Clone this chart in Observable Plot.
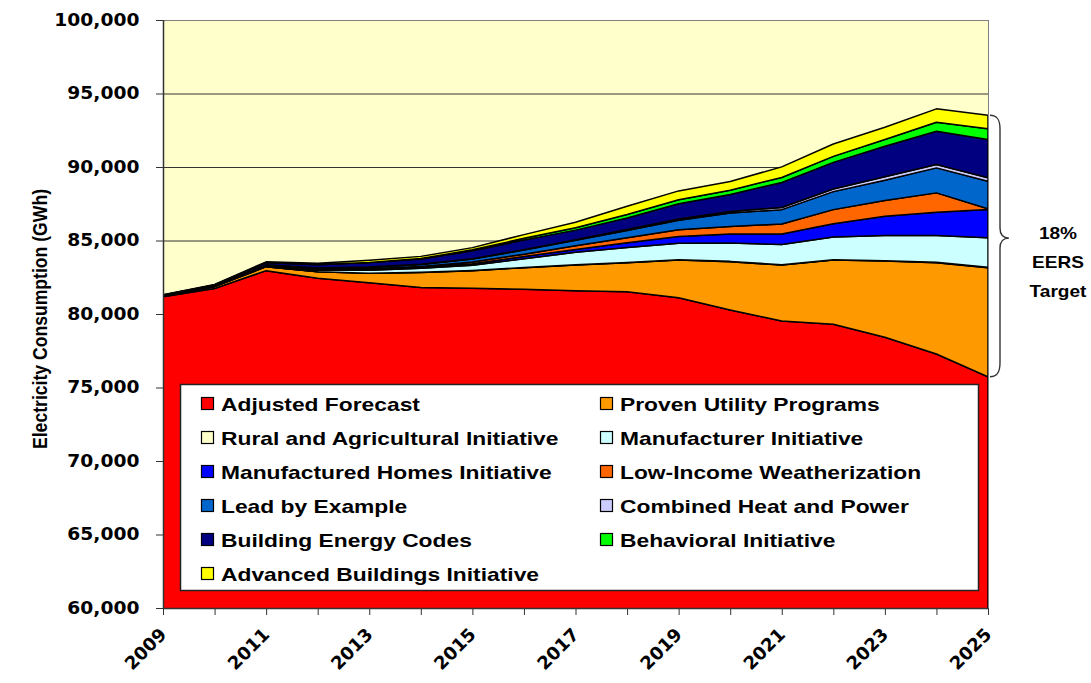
<!DOCTYPE html>
<html><head><meta charset="utf-8">
<script src="https://cdn.jsdelivr.net/npm/d3@7"></script>
<script src="https://cdn.jsdelivr.net/npm/@observablehq/plot@0.6"></script>
<style>
html,body{margin:0;padding:0;background:#fff;}
#chart{position:relative;width:1091px;height:683px;}
</style></head><body><div id="chart"></div>
<script>
// ---- data (GWh) ----
const years = [2009, 2010, 2011, 2012, 2013, 2014, 2015, 2016, 2017, 2018, 2019, 2020, 2021, 2022, 2023, 2024, 2025];
const adjustedForecast = [81180, 81730, 82950, 82430, 82130, 81800, 81750, 81680, 81580, 81520, 81100, 80270, 79520, 79300, 78415, 77280, 75735];
const provenUtility    = [60, 130, 270, 450, 640, 1030, 1200, 1470, 1750, 1970, 2570, 3290, 3810, 4370, 5185, 6210, 7415];
const ruralAgricultural= [0, 0, 0, 0, 5, 5, 10, 10, 15, 15, 20, 20, 25, 25, 30, 30, 30];
const manufacturer     = [10, 20, 50, 100, 200, 270, 350, 600, 850, 1020, 1130, 1250, 1370, 1550, 1706, 1816, 2000];
const manufacturedHomes= [5, 10, 20, 40, 60, 70, 115, 150, 200, 330, 460, 610, 720, 900, 1314, 1584, 1925];
const lowIncome        = [5, 10, 20, 40, 50, 60, 110, 160, 250, 330, 450, 520, 680, 955, 1070, 1320, 50];
const leadByExample    = [5, 15, 30, 60, 100, 140, 200, 280, 370, 500, 640, 910, 975, 1225, 1380, 1700, 1880];
const combinedHeat     = [0, 0, 5, 5, 10, 15, 20, 30, 40, 60, 90, 110, 150, 180, 230, 226, 230];
const buildingCodes    = [30, 60, 150, 230, 300, 350, 550, 650, 650, 790, 1040, 1150, 1700, 1810, 2080, 2264, 2610];
const behavioral       = [0, 0, 5, 5, 15, 30, 60, 120, 160, 230, 275, 290, 340, 410, 460, 615, 720];
const advancedBuildings= [15, 30, 50, 90, 150, 150, 150, 250, 380, 565, 600, 600, 720, 840, 835, 910, 930];

const seriesNames = [
  "Adjusted Forecast", "Proven Utility Programs", "Rural and Agricultural Initiative",
  "Manufacturer Initiative", "Manufactured Homes Initiative", "Low-Income Weatherization",
  "Lead by Example", "Combined Heat and Power", "Building Energy Codes",
  "Behavioral Initiative", "Advanced Buildings Initiative"
];
const seriesColors = ["#FF0000", "#FF9900", "#FFFFCC", "#CCFFFF", "#0000FF", "#FF6600",
  "#0066CC", "#CCCCFF", "#000080", "#00FF00", "#FFFF00"];
const seriesValues = [adjustedForecast, provenUtility, ruralAgricultural, manufacturer,
  manufacturedHomes, lowIncome, leadByExample, combinedHeat, buildingCodes, behavioral, advancedBuildings];

const yTicks = [60000, 65000, 70000, 75000, 80000, 85000, 90000, 95000, 100000];
const xLabelYears = [2009, 2011, 2013, 2015, 2017, 2019, 2021, 2023, 2025];
const yTitle = "Electricity Consumption (GWh)";
const braceLabel = ["18%", "EERS", "Target"];

// tidy table
const data = [];
seriesNames.forEach((name, i) => years.forEach((yr, j) => data.push({year: yr, series: name, value: seriesValues[i][j]})));

const chart = Plot.plot({
  width: 1091, height: 683,
  marginLeft: 163, marginRight: 103, marginTop: 20, marginBottom: 75,
  style: {background: "transparent", fontFamily: "'DejaVu Sans', sans-serif", overflow: "visible", color: "#000"},
  x: {domain: [2009, 2025]},
  y: {domain: [60000, 100000]},
  color: {domain: seriesNames, range: seriesColors},
  marks: [
    Plot.frame({fill: "#FFFFCC", stroke: "none"}),
    Plot.ruleY(yTicks, {stroke: "#333", strokeWidth: 1, strokeOpacity: 1}),
    Plot.areaY(data, {x: "year", y: "value", z: "series", fill: "series", order: seriesNames,
      stroke: "#000", strokeWidth: 1.5, strokeLinejoin: "round", clip: true}),
    Plot.frame({stroke: "#808080", strokeWidth: 1}),
    Plot.ruleX([2009], {stroke: "#333", strokeWidth: 1.5}),
    Plot.ruleY([60000], {stroke: "#333", strokeWidth: 1.5}),
    Plot.axisY({ticks: yTicks, tickSize: 7, tickPadding: 17, tickFormat: d3.format(","),
      fontSize: 17, fontWeight: "bold", label: null, stroke: "#333"}),
    Plot.axisX({ticks: years, tickSize: 7, tickPadding: 16, tickRotate: -45,
      tickFormat: d => xLabelYears.includes(d) ? String(d) : "",
      fontSize: 18, fontWeight: "bold", label: null, stroke: "#333"})
  ]
});
document.getElementById("chart").appendChild(chart);

const svg = d3.select(chart);
const xs = chart.scale("x"), ys = chart.scale("y");

function stretch(sel, k) {
  sel.each(function() {
    const L = this.getComputedTextLength();
    if (L > 0) { this.setAttribute("textLength", L * k); this.setAttribute("lengthAdjust", "spacingAndGlyphs"); }
  });
}
stretch(svg.selectAll('g[aria-label="y-axis tick label"] text'), 1.1);

// Y axis title
svg.append("text")
  .attr("transform", `translate(47,${(ys.apply(60000) + ys.apply(100000)) / 2 + 5}) rotate(-90)`)
  .attr("text-anchor", "middle")
  .attr("font-family", "'Liberation Sans', Arial, sans-serif")
  .attr("font-weight", "bold").attr("font-size", 21)
  .attr("textLength", 260).attr("lengthAdjust", "spacingAndGlyphs")
  .text(yTitle);

// Legend (inside plot area)
const lg = svg.append("g").attr("text-anchor", "start");
lg.append("rect").attr("x", 180.5).attr("y", 384.5).attr("width", 798).attr("height", 206)
  .attr("fill", "#fff").attr("stroke", "#222").attr("stroke-width", 1.5);
seriesNames.forEach((name, idx) => {
  const col = idx % 2, row = Math.floor(idx / 2);
  const sx = col === 0 ? 201 : 600;
  const cy = 404 + row * 34;
  lg.append("rect").attr("x", sx + 0.5).attr("y", cy - 6.5).attr("width", 12).attr("height", 12)
    .attr("fill", seriesColors[idx]).attr("stroke", "#000").attr("stroke-width", 1.2);
  lg.append("text").attr("class", "lgtext").attr("x", sx + 20).attr("y", cy + 7)
    .attr("text-anchor", "start")
    .attr("font-family", "'Liberation Sans', Arial, sans-serif").attr("font-weight", "bold")
    .attr("font-size", 19).attr("fill", "#000").text(name);
});
stretch(lg.selectAll("text.lgtext"), 1.2);

// Brace for the EERS target (2025)
const last = years.length - 1;
const total2025 = seriesValues.reduce((s, arr) => s + arr[last], 0);
const yTop = ys.apply(total2025), yBot = ys.apply(adjustedForecast[last]);
const xb = xs.apply(2025) + 2;
const mid = yTop + (yBot - yTop) * 0.47;
const xv = xb + 10, xt = xb + 19;
svg.append("path")
  .attr("d", `M${xb},${yTop} C${xb + 7},${yTop} ${xv},${yTop + 4} ${xv},${yTop + 14} L${xv},${mid - 10} C${xv},${mid - 3} ${xv + 3},${mid} ${xt},${mid} C${xv + 3},${mid} ${xv},${mid + 3} ${xv},${mid + 10} L${xv},${yBot - 14} C${xv},${yBot - 4} ${xb + 7},${yBot} ${xb},${yBot}`)
  .attr("fill", "none").attr("stroke", "#333").attr("stroke-width", 1.4);
const bt = svg.append("g");
braceLabel.forEach((t, i) => {
  bt.append("text").attr("x", 1058).attr("y", 239 + i * 29).attr("text-anchor", "middle")
    .attr("font-family", "'Liberation Sans', Arial, sans-serif").attr("font-weight", "bold")
    .attr("font-size", 17).attr("fill", "#000").text(t);
});
stretch(bt.selectAll("text"), 1.12);
</script></body></html>
